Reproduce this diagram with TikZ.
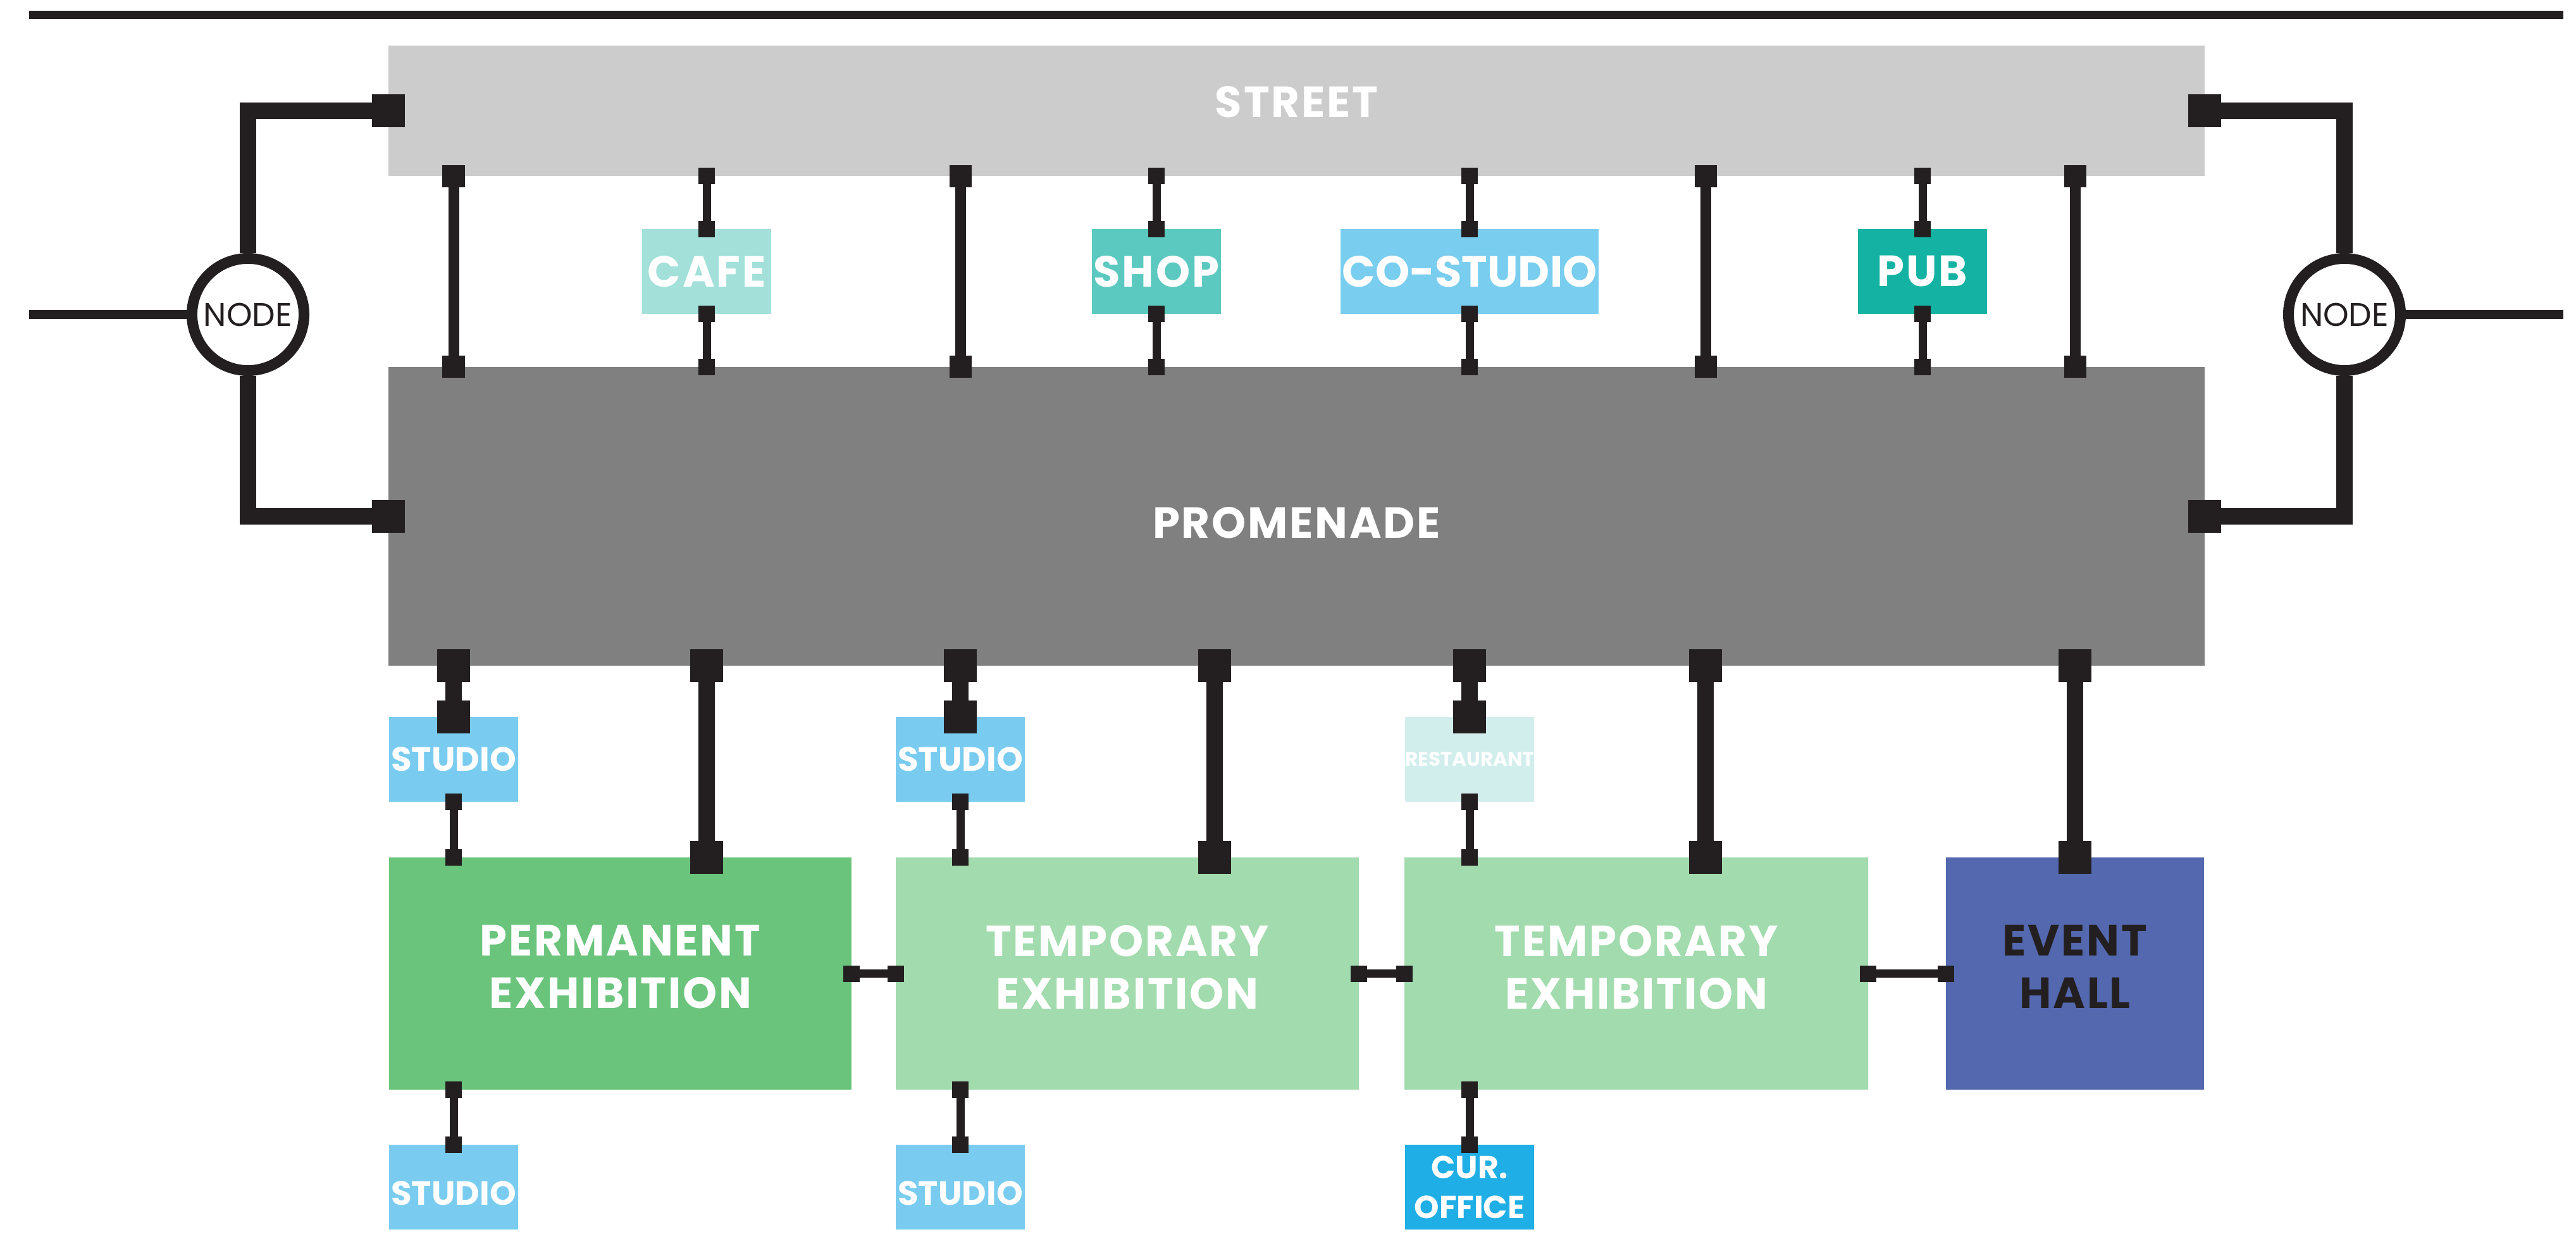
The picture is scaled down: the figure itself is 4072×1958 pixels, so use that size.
\documentclass[tikz,border=0pt]{standalone}
\usepackage{fontspec}
\setmainfont{Poppins}
\usepackage{tikz}
\usetikzlibrary{arrows.meta}

\definecolor{ink}{HTML}{231F20}
\definecolor{streetgray}{HTML}{CCCCCC}
\definecolor{promgray}{HTML}{808080}
\definecolor{cafecol}{HTML}{A2E0D9}
\definecolor{shopcol}{HTML}{5BC9BF}
\definecolor{costudiocol}{HTML}{79CDEF}
\definecolor{pubcol}{HTML}{13B2A2}
\definecolor{studiocol}{HTML}{79CCEF}
\definecolor{restcol}{HTML}{D2EEEC}
\definecolor{officecol}{HTML}{1FAEE5}
\definecolor{permcol}{HTML}{6AC47C}
\definecolor{tempcol}{HTML}{A2DBAD}
\definecolor{eventcol}{HTML}{5368AF}

\tikzset{
  area/.style={inner sep=0pt, outer sep=0pt, text=white, align=center,
    font=\bfseries\fontsize{19.6}{23.6}\selectfont\addfontfeatures{LetterSpace=4}},
  room/.style={area, minimum width=2.04cm, minimum height=1.34cm},
  smalltxt/.style={font=\bfseries\fontsize{15.1}{17.9}\selectfont},
  hall/.style={area, minimum height=3.67cm, text depth=0.21cm},
  hub/.style={circle, draw=ink, line width=0.17cm, fill=white, minimum size=1.77cm,
    inner sep=0pt, text=ink, font=\fontsize{14.7}{16}\selectfont},
  sqS/.tip={Square[length=0.26cm, width=0.26cm, line width=0pt]},
  sqM/.tip={Square[length=0.35cm, width=0.35cm, line width=0pt]},
  sqL/.tip={Square[length=0.52cm, width=0.52cm, line width=0pt]},
  consmall/.style={draw=ink, line width=0.13cm, sqS-sqS, shorten <=-0.13cm, shorten >=-0.13cm},
  conmid/.style={draw=ink, line width=0.17cm, sqM-sqM, shorten <=-0.175cm, shorten >=-0.175cm},
  conbig/.style={draw=ink, line width=0.26cm, sqL-sqL, shorten <=-0.26cm, shorten >=-0.26cm},
  hublink/.style={draw=ink, line width=0.26cm, -sqL, shorten >=-0.26cm},
  wire/.style={draw=ink, line width=0.13cm}
}

\begin{document}
\begin{tikzpicture}[x=0.01cm, y=-0.01cm]
\useasboundingbox (0,0) rectangle (4072,1958);

% street and promenade
\node[area, fill=streetgray, minimum width=28.69cm, minimum height=2.06cm, text depth=0.28cm] (street) at (2049.5,175) {STREET};
\node[area, fill=promgray, minimum width=28.69cm, minimum height=4.72cm, text height=0.7cm] (promenade) at (2049.5,816) {PROMENADE};

% shops between street and promenade
\node[room, fill=cafecol] (cafe) at (1117,429) {CAFE};
\node[room, fill=shopcol] (shop) at (1828,429) {SHOP};
\node[room, fill=costudiocol, minimum width=4.08cm, font=\bfseries\fontsize{19.6}{23.6}\selectfont] (costudio) at (2323,429) {CO-STUDIO};
\node[room, fill=pubcol] (pub) at (3039,429) {PUB};

% studios
\node[room, smalltxt, fill=studiocol] (studioA) at (717,1200) {STUDIO};
\node[room, smalltxt, fill=studiocol] (studioB) at (1518,1200) {STUDIO};
\node[room, fill=restcol, font=\bfseries\fontsize{8.8}{10}\selectfont] (restaurant) at (2323,1200) {RESTAURANT};
\node[room, smalltxt, fill=studiocol, text height=0.57cm] (studioC) at (717,1876) {STUDIO};
\node[room, smalltxt, fill=studiocol, text height=0.57cm] (studioD) at (1518,1876) {STUDIO};
\node[room, fill=officecol, font=\bfseries\fontsize{14.3}{17.9}\selectfont] (office) at (2323,1876) {CUR.\\OFFICE};

% exhibitions
\node[hall, fill=permcol, minimum width=7.31cm] (perm) at (980.5,1538.5) {PERMANENT\\EXHIBITION};
\node[hall, fill=tempcol, minimum width=7.32cm] (tempA) at (1782,1538.5) {TEMPORARY\\EXHIBITION};
\node[hall, fill=tempcol, minimum width=7.33cm] (tempB) at (2586.5,1538.5) {TEMPORARY\\EXHIBITION};
\node[hall, fill=eventcol, minimum width=4.08cm, text=ink] (event) at (3280,1538.5) {EVENT\\HALL};

% nodes at the sides
\node[hub] (hubL) at (392,497) {NODE};
\node[hub] (hubR) at (3706,497) {NODE};
\coordinate (inL) at (46,497);
\coordinate (outR) at (4052,497);
\coordinate (railL) at (46,24);
\coordinate (railR) at (4052,24);

\draw[wire] (railL) -- (railR);
\draw[wire] (inL) -- (hubL.west);
\draw[wire] (hubR.east) -- (outR);
\draw[hublink] (hubL.north) |- (street.west);
\draw[hublink] (hubL.south) |- (promenade.west);
\draw[hublink] (hubR.north) |- (street.east);
\draw[hublink] (hubR.south) |- (promenade.east);

% street to promenade
\foreach \x in {717,1518,2696,3280}
  \draw[conmid] (street.south -| \x,0) -- (promenade.north -| \x,0);
\foreach \b in {cafe,shop,costudio,pub} {
  \draw[consmall] (street.south -| \b) -- (\b.north);
  \draw[consmall] (\b.south) -- (promenade.north -| \b);
}

% promenade to the rooms below
\foreach \b/\x in {studioA/717, perm/1117, studioB/1518, tempA/1920, restaurant/2323, tempB/2696, event/3280}
  \draw[conbig] (promenade.south -| \x,0) -- (\b.north -| \x,0);

\draw[consmall] (studioA.south) -- (perm.north -| studioA);
\draw[consmall] (studioB.south) -- (tempA.north -| studioB);
\draw[consmall] (restaurant.south) -- (tempB.north -| restaurant);
\draw[consmall] (perm.south -| studioC) -- (studioC.north);
\draw[consmall] (tempA.south -| studioD) -- (studioD.north);
\draw[consmall] (tempB.south -| office) -- (office.north);

\draw[consmall] (perm.east) -- (tempA.west);
\draw[consmall] (tempA.east) -- (tempB.west);
\draw[consmall] (tempB.east) -- (event.west);
\end{tikzpicture}
\end{document}
